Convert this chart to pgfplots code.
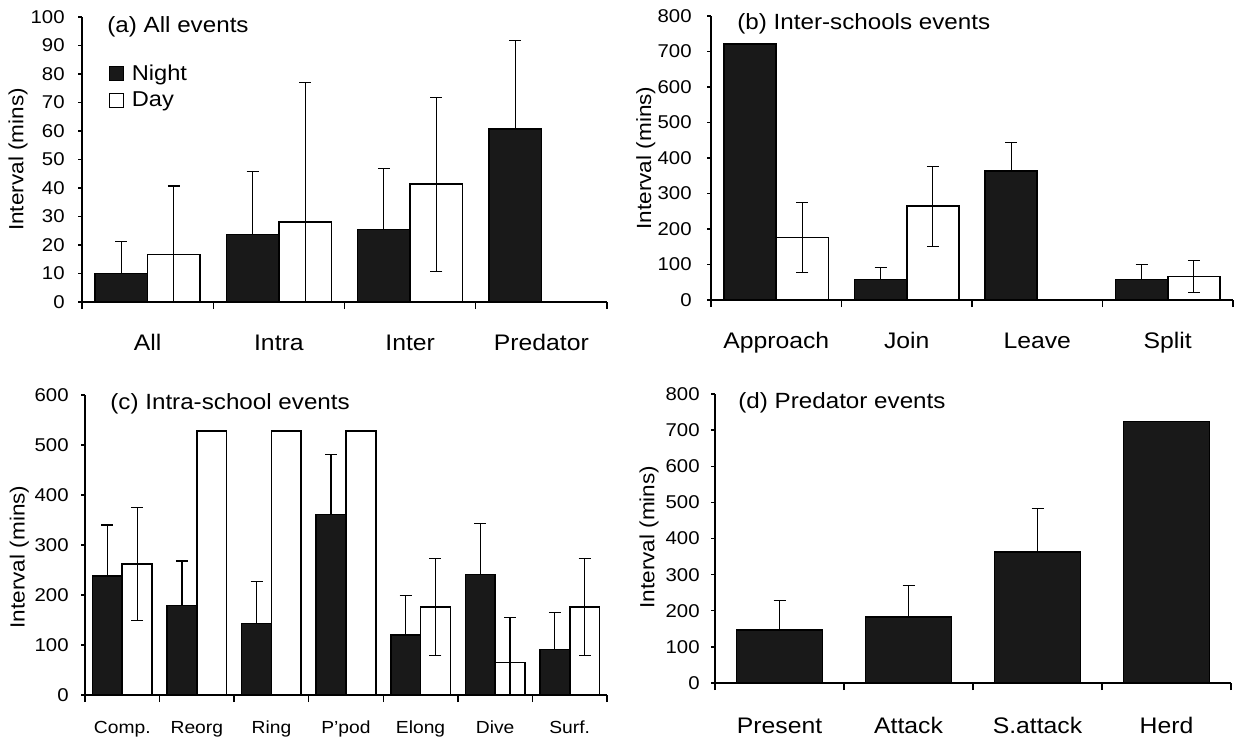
\documentclass[border=0pt]{standalone}
\usepackage{pgfplots}
\pgfplotsset{compat=1.18}
\usepackage{fontspec}
\setmainfont{Liberation Sans}[FakeStretch=1.1]
\definecolor{nightc}{gray}{0.1}

\pgfplotsset{
  panel/.style={
    scale only axis,
    anchor=south west,
    ybar,
    enlargelimits=false,
    axis x line*=bottom,
    axis y line*=left,
    axis line style={line width=0.7pt,-},
    tick align=outside,
    ymin=0, xmin=-0.5,
    major tick length=2pt,
    minor tick length=3.5pt,
    every tick/.style={black,line width=0.7pt},
    major x tick style={draw=none},
    /pgf/number format/assume math mode=true,
    /pgf/number format/fixed,
    yticklabel style={font=\fontsize{9.25}{10}\selectfont,anchor=east,inner sep=0pt},
    xticklabel style={font=\fontsize{11.25}{13}\selectfont,anchor=base,inner sep=0pt,yshift=-22pt},
    ylabel={Interval (mins)},
    every axis y label/.style={rotate=90,anchor=center,font=\fontsize{10.25}{12}\selectfont},
    clip=true,
  },
  errs/.style={
    error bars/y dir=both,
    error bars/y explicit,
    error bars/error bar style={line width=0.6pt,black},
    error bars/error mark options={rotate=90,mark size=3pt,line width=0.6pt,black}},
  night/.style={fill=nightc,draw=black,line width=0.8pt,errs},
  day/.style={fill=white,draw=black,line width=0.8pt,errs},
  leg/.style={legend image code/.code={\draw[##1,line width=0.6pt] (0pt,-3.5pt) rectangle (7pt,3.5pt);}},
}

\begin{document}
\begin{tikzpicture}
\useasboundingbox (0,0) rectangle (617pt,-369pt);

% (a)
\begin{axis}[panel, at={(41pt,-151pt)}, width=262.5pt, height=142.5pt,
  ymax=100, ytick={0,10,...,100}, xmax=3.5,
  xtick={0,1,2,3}, xticklabels={All,Intra,Inter,Predator},
  minor xtick={-0.5,0.5,1.5,2.5,3.5},
  yticklabel style={xshift=-6.5pt},
  every axis y label/.append style={at={(rel axis cs:-0.122,0.5)}},
  legend style={at={(rel axis cs:0.05,0.835)},anchor=north west,draw=none,fill=none,
    font=\fontsize{10.75}{12}\selectfont,inner sep=0pt,row sep=4.5pt,
    nodes={inner sep=0pt, inner xsep=4pt}},
  legend cell align=left,
  bar width=0.4]
\addplot[night,leg,bar shift=-0.2] coordinates {(0,10) += (0,11.1) -= (0,0) (1,23.7) += (0,22) -= (0,0) (2,25.4) += (0,21.5) -= (0,0) (3,60.6) += (0,31.2) -= (0,0)};
\addplot[day,leg,bar shift=0.2] coordinates {(0,16.6) +- (0,24.1) (1,28.1) +- (0,48.8) (2,41.3) +- (0,30.5)};
\legend{Night,Day}
\end{axis}

% (b)
\begin{axis}[panel, at={(355.5pt,-150pt)}, width=261pt, height=142pt,
  ymax=800, ytick={0,100,...,800}, xmax=3.5,
  xtick={0,1,2,3}, xticklabels={Approach,Join,Leave,Split},
  minor xtick={-0.5,0.5,1.5,2.5,3.5},
  yticklabel style={xshift=-7.5pt},
  every axis y label/.append style={at={(rel axis cs:-0.125,0.5)}},
  bar width=0.4]
\addplot[night,bar shift=-0.2] coordinates {(0,722) += (0,0) -= (0,0) (1,58) += (0,33) -= (0,0) (2,363) += (0,81) -= (0,0) (3,58) += (0,42) -= (0,0)};
\addplot[day,bar shift=0.2] coordinates {(0,176) +- (0,98) (1,264) +- (0,113) (3,66) +- (0,45)};
\end{axis}

% (c)
\begin{axis}[panel, at={(42.5pt,-347.5pt)}, width=261pt, height=150pt,
  ymax=600, ytick={0,100,...,600}, xmax=6.5,
  xtick={0,1,2,3,4,5,6}, xticklabels={Comp.,Reorg,Ring,P'pod,Elong,Dive,Surf.},
  minor xtick={-0.5,0.5,1.5,2.5,3.5,4.5,5.5,6.5},
  xticklabel style={font=\fontsize{8.75}{10}\selectfont,yshift=5pt},
  yticklabel style={xshift=-6pt},
  every axis y label/.append style={at={(rel axis cs:-0.126,0.46)}},
  bar width=0.4]
\addplot[night,bar shift=-0.2] coordinates {(0,238) += (0,102) -= (0,0) (1,179) += (0,89) -= (0,0) (2,143) += (0,84) -= (0,0) (3,361) += (0,120) -= (0,0) (4,120) += (0,79) -= (0,0) (5,241) += (0,102) -= (0,0) (6,91) += (0,74) -= (0,0)};
\addplot[day,bar shift=0.2] coordinates {(0,262) +- (0,113) (1,528) +- (0,0) (2,528) +- (0,0) (3,528) +- (0,0) (4,176) +- (0,97) (5,65) +- (0,90) (6,176) +- (0,97)};
\end{axis}

% (d)
\begin{axis}[panel, at={(357.5pt,-341.5pt)}, width=258pt, height=144.5pt,
  ymax=800, ytick={0,100,...,800}, xmax=3.5,
  xtick={0,1,2,3}, xticklabels={Present,Attack,S.attack,Herd},
  minor xtick={-0.5,0.5,1.5,2.5,3.5},
  xticklabel style={yshift=-1pt},
  yticklabel style={xshift=-5.5pt},
  every axis y label/.append style={at={(rel axis cs:-0.128,0.505)}},
  bar width=0.667]
\addplot[night,bar shift=0] coordinates {(0,146) += (0,82) -= (0,0) (1,183) += (0,88) -= (0,0) (2,363) += (0,121) -= (0,0) (3,724) += (0,0) -= (0,0)};
\end{axis}

\node[anchor=west,inner sep=0pt,font=\fontsize{11}{12}\selectfont] at (53.5pt,-13.5pt) {(a) All events};
\node[anchor=west,inner sep=0pt,font=\fontsize{11}{12}\selectfont] at (368.5pt,-12pt) {(b) Inter-schools events};
\node[anchor=west,inner sep=0pt,font=\fontsize{11}{12}\selectfont] at (55pt,-202pt) {(c) Intra-school events};
\node[anchor=west,inner sep=0pt,font=\fontsize{11}{12}\selectfont] at (369pt,-201.5pt) {(d) Predator events};
\end{tikzpicture}
\end{document}
